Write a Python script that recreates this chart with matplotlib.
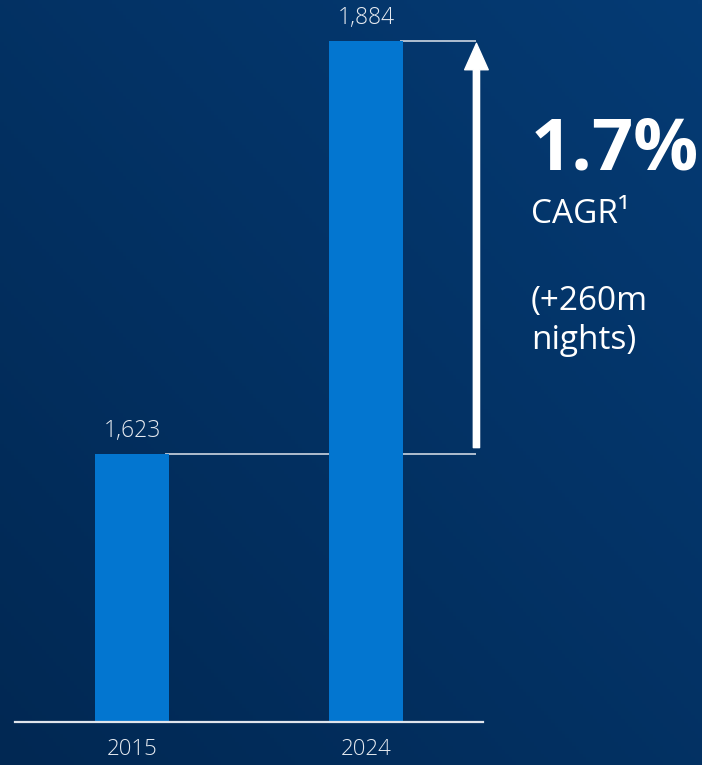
import numpy as np
import matplotlib.pyplot as plt

years = ['2015', '2024']
nights = [1623, 1884]
value_labels = ['1,623', '1,884']
cagr_text = '1.7%'
cagr_label = 'CAGR\u00b9'
delta_text = '(+260m\nnights)'

W, H = 702, 765
fig = plt.figure(figsize=(W / 100, H / 100), dpi=100)

# background gradient, darker bottom-left to lighter top-right
bg = fig.add_axes([0, 0, 1, 1])
gx, gy = np.meshgrid(np.linspace(0, 1, 200), np.linspace(0, 1, 200))
t = (gx + gy) / 2
c0 = np.array([0x01, 0x28, 0x53]) / 255
c1 = np.array([0x05, 0x3b, 0x74]) / 255
img = c0[None, None, :] * (1 - t[..., None]) + c1[None, None, :] * t[..., None]
bg.imshow(img, origin='lower', extent=[0, 1, 0, 1], aspect='auto')
bg.axis('off')

ax = fig.add_axes([15 / W, 43 / H, 468 / W, 722 / H])
ax.patch.set_alpha(0)
ax.set_xlim(-0.5, 1.5)
ax.set_ylim(1453.6, 1909.9)

x = np.arange(len(years))
bar_col = '#0376d0'
line_col = '#dfe4ec'
fam = 'Open Sans'

# guide lines at each bar top, drawn behind bars
ax.hlines(nights[0], 0.14, 1.468, color=line_col, lw=1.1, zorder=1)
ax.hlines(nights[1], 1.147, 1.468, color=line_col, lw=1.1, zorder=1)

ax.bar(x, nights, width=0.312, color=bar_col, zorder=2)

for xi, v, lab in zip(x, nights, value_labels):
    ax.annotate(lab, (xi, v), xytext=(0, 12), textcoords='offset points',
                ha='center', va='baseline', color='#e6eaf0',
                fontsize=16.5, family=fam, fontweight=300)

ax.annotate('', xy=(1.472, nights[1] - 1.5), xytext=(1.472, nights[0] + 4),
            arrowprops=dict(width=4.5, headwidth=17, headlength=19,
                            color='white', shrink=0), zorder=3)

ax.set_xticks(x, years)
ax.tick_params(axis='x', length=0, pad=12, labelsize=16, labelcolor='#e6eaf0')
for lab in ax.get_xticklabels():
    lab.set_family(fam)
    lab.set_fontweight(300)
ax.set_yticks([])
for s in ['top', 'left', 'right']:
    ax.spines[s].set_visible(False)
ax.spines['bottom'].set_color(line_col)
ax.spines['bottom'].set_linewidth(1.6)

tx = 531 / W
fig.text(tx, (H - 170) / H, cagr_text, color='white', fontsize=52,
         fontweight='bold', family=fam, va='baseline')
fig.text(tx, (H - 223) / H, cagr_label, color='white', fontsize=24,
         family=fam, va='baseline')
fig.text(tx, (H - 310) / H, delta_text.split('\n')[0], color='white', fontsize=24,
         family=fam, va='baseline')
fig.text(tx, (H - 349) / H, delta_text.split('\n')[1], color='white', fontsize=24,
         family=fam, va='baseline')

fig.savefig('out.png', dpi=100)
